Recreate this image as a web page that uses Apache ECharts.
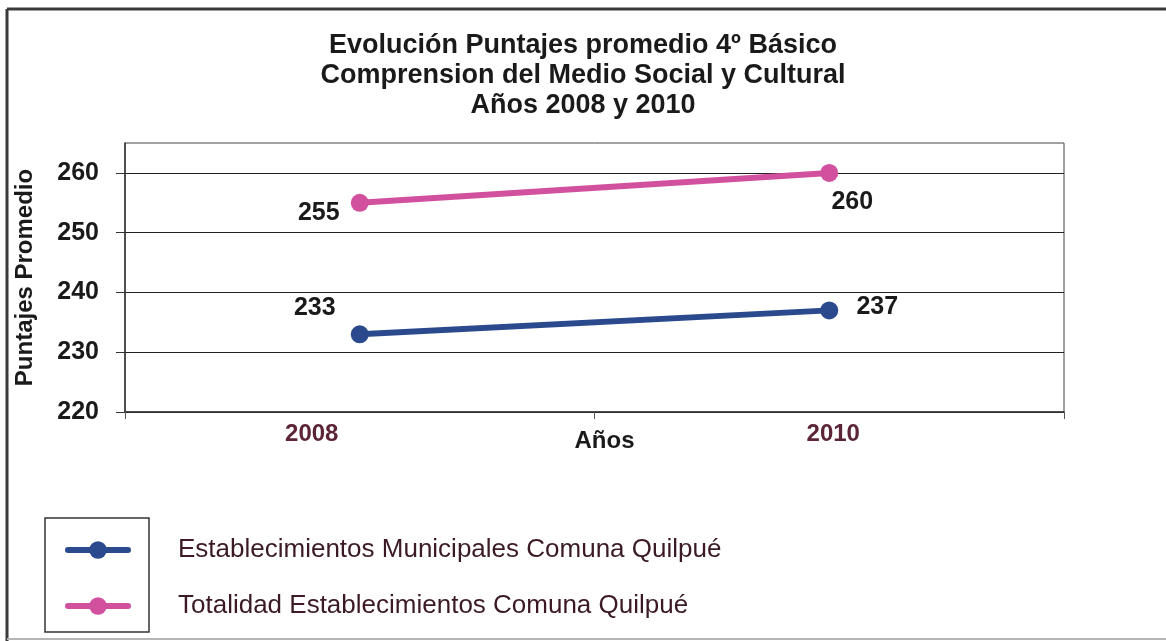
<!DOCTYPE html>
<html>
<head>
<meta charset="utf-8">
<script src="https://cdn.jsdelivr.net/npm/echarts@6/dist/echarts.min.js"></script>
<style>
html,body{margin:0;padding:0;background:#fff;}
#chart{width:1166px;height:641px;}
</style>
</head>
<body>
<div id="chart"></div>
<script>
var titleLines = ['Evolución Puntajes promedio 4º Básico', 'Comprension del Medio Social y Cultural', 'Años 2008 y 2010'];
var categories = ['2008', '2010'];
var seriesNames = ['Establecimientos Municipales Comuna Quilpué', 'Totalidad Establecimientos Comuna Quilpué'];
var municipales = [233, 237];
var totalidad = [255, 260];
var yTicks = [220, 230, 240, 250, 260];
var yAxisName = 'Puntajes Promedio';
var xAxisName = 'Años';

var FONT = '"Liberation Sans", Arial, sans-serif';
var BLUE = '#2b4a8e';
var PINK = '#d2519f';

function withLabels(values, offsets) {
  return values.map(function (v, i) {
    return { value: v, label: { offset: offsets[i] } };
  });
}

var chart = echarts.init(document.getElementById('chart'), null, { renderer: 'canvas' });
var option = {
  backgroundColor: '#ffffff',
  animation: false,
  title: {
    text: titleLines.join('\n'),
    left: 'center',
    top: 26,
    textStyle: { fontFamily: FONT, fontWeight: 'bold', fontSize: 27, lineHeight: 30, color: '#1a1a1a' }
  },
  grid: {
    left: 125, right: 102, top: 143, bottom: 229,
    show: true, borderColor: '#444', borderWidth: 1, backgroundColor: 'transparent'
  },
  legend: {
    orient: 'vertical',
    left: 60,
    top: 530,
    itemWidth: 60,
    itemHeight: 22,
    itemGap: 26,
    data: seriesNames,
    lineStyle: { width: 6, cap: 'round' },
    textStyle: { fontFamily: FONT, fontSize: 26, lineHeight: 30, color: '#3b1a26', padding: [0, 0, 0, 45] }
  },
  xAxis: {
    type: 'category',
    data: categories,
    boundaryGap: true,
    name: xAxisName,
    nameLocation: 'middle',
    nameGap: 17,
    nameMoveOverlap: false,
    nameTextStyle: { fontFamily: FONT, fontWeight: 'bold', fontSize: 24, color: '#1a1a1a', padding: [0, 0, 0, 20] },
    axisLine: { show: true, lineStyle: { color: '#333', width: 1.5 } },
    axisTick: { show: true, length: 7, lineStyle: { color: '#555' } },
    axisLabel: {
      margin: 10,
      formatter: function (v, i) { return i === 0 ? '{a|' + v + '}' : '{b|' + v + '}'; },
      rich: {
        a: { fontFamily: FONT, fontWeight: 'bold', fontSize: 24, color: '#5c2438', padding: [0, 96, 0, 0] },
        b: { fontFamily: FONT, fontWeight: 'bold', fontSize: 24, color: '#5c2438', padding: [0, 0, 0, 8] }
      }
    },
    splitLine: { show: false }
  },
  yAxis: {
    type: 'value',
    min: 220,
    max: 265,
    interval: 10,
    name: yAxisName,
    nameLocation: 'middle',
    nameGap: 88,
    nameRotate: 90,
    nameMoveOverlap: false,
    nameTextStyle: { fontFamily: FONT, fontWeight: 'bold', fontSize: 24, color: '#1a1a1a' },
    axisLine: { show: true, lineStyle: { color: '#333', width: 1.5 } },
    axisTick: { show: true, length: 9, inside: false, customValues: yTicks, lineStyle: { color: '#333' } },
    axisLabel: {
      margin: 26,
      customValues: yTicks,
      fontFamily: FONT, fontWeight: 'bold', fontSize: 25, color: '#1a1a1a'
    },
    splitLine: { show: true, lineStyle: { color: '#222', width: 1.2 } }
  },
  series: [
    {
      name: seriesNames[0],
      type: 'line',
      data: withLabels(municipales, [[-45, -26], [48, -3]]),
      symbol: 'circle',
      symbolSize: 18,
      lineStyle: { color: BLUE, width: 6 },
      itemStyle: { color: BLUE },
      label: { show: true, position: 'inside', fontFamily: FONT, fontWeight: 'bold', fontSize: 25, color: '#1a1a1a' }
    },
    {
      name: seriesNames[1],
      type: 'line',
      data: withLabels(totalidad, [[-41, 10], [23, 29]]),
      symbol: 'circle',
      symbolSize: 18,
      lineStyle: { color: PINK, width: 6 },
      itemStyle: { color: PINK },
      label: { show: true, position: 'inside', fontFamily: FONT, fontWeight: 'bold', fontSize: 25, color: '#1a1a1a' }
    }
  ],
  graphic: [
    { type: 'line', shape: { x1: 7, y1: 9, x2: 1166, y2: 9 }, style: { stroke: '#3a3a3a', lineWidth: 3 }, silent: true },
    { type: 'line', shape: { x1: 7, y1: 9, x2: 7, y2: 641 }, style: { stroke: '#3a3a3a', lineWidth: 3 }, silent: true },
    { type: 'line', shape: { x1: 7, y1: 639, x2: 1166, y2: 639 }, style: { stroke: '#b5b5b5', lineWidth: 2 }, silent: true },
    { type: 'rect', shape: { x: 45, y: 518, width: 104, height: 114 }, style: { stroke: '#333', lineWidth: 1.5, fill: 'transparent' }, silent: true }
  ]
};
chart.setOption(option);
</script>
</body>
</html>
